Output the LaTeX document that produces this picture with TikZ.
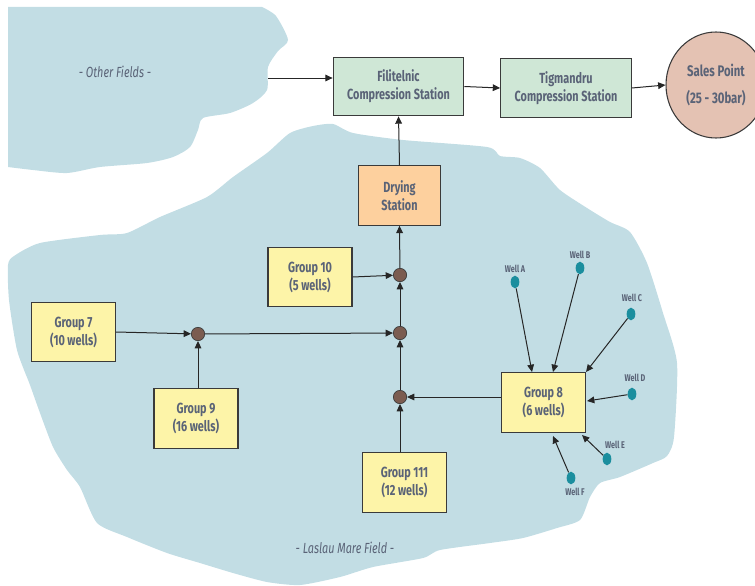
\documentclass[tikz,border=0pt]{standalone}
\usepackage{fontspec}
\setmainfont[FakeStretch=0.74]{Fira Sans}
\usetikzlibrary{shapes.geometric,arrows.meta}
\definecolor{field}{HTML}{C2DDE4}
\definecolor{txt}{HTML}{5A6377}
\definecolor{greenbox}{HTML}{CFE7D6}
\definecolor{yellowbox}{HTML}{FDF4A8}
\definecolor{orangebox}{HTML}{FDD09E}
\definecolor{salesfill}{HTML}{E4C2B3}
\definecolor{junc}{HTML}{7B5C50}
\definecolor{wellc}{HTML}{1B8E9E}
\definecolor{edge}{HTML}{3A3A3A}
\tikzset{
  box/.style={draw=edge, line width=0.8pt, text=txt, align=center, font=\fontsize{11}{13.5}\selectfont\bfseries,
              inner sep=0pt},
  gbox/.style={box, fill=greenbox, minimum width=98pt, minimum height=44pt},
  ybox/.style={box, fill=yellowbox, minimum width=63pt, minimum height=44.5pt},
  obox/.style={box, fill=orangebox, minimum width=62pt, minimum height=44.5pt},
  jn/.style={circle, draw=edge, line width=0.5pt, fill=junc, minimum size=10pt, inner sep=0pt},
  well/.style={ellipse, fill=wellc, minimum width=6.5pt, minimum height=9.5pt, inner sep=0pt},
  wlab/.style={text=txt, font=\fontsize{7.3}{8}\selectfont\bfseries, inner sep=0pt},
  conn/.style={draw=black!85, line width=0.75pt, -{Triangle[length=5.5pt,width=5pt]}},
  flab/.style={text=txt, font=\fontsize{11}{12}\selectfont\itshape}
}
\begin{document}
\begin{tikzpicture}[x=0.75pt,y=-0.75pt]
\useasboundingbox (0,0) rectangle (755,585);
\begin{scope}
\clip (0,0) rectangle (755,585);
% Other fields blob
\fill[field] (8,167) -- (8,7) -- (262,7) -- plot[smooth, tension=0.45] coordinates {
 (262,7) (276,16) (288,40) (278,51) (268,67) (267,90) (253,103)
 (230,113) (203,118) (198,130) (190,147) (173,157) (147,163) (100,167) (67,173) (33,170) (8,167)} -- cycle;
% Laslau Mare blob
\fill[field] plot[smooth cycle, tension=0.4] coordinates {
 (207,197) (233,177) (267,153) (290,133) (313,126) (333,124) (353,133) (403,140)
 (487,147) (500,156) (520,158) (540,168) (560,190) (587,208) (610,222) (630,232)
 (647,263) (663,313) (677,363) (674,437) (667,456) (653,463) (620,477) (600,483)
 (590,497) (580,520) (557,528) (523,538) (490,543) (440,550) (423,558) (373,567)
 (340,577) (300,585) (267,582) (233,573) (200,563) (167,553) (127,537) (97,523)
 (80,487) (67,470) (53,447) (40,413) (30,385) (17,350) (9,300) (8,265) (14,256)
 (40,243) (100,235) (127,233) (160,217)};
% Sales point
\node[ellipse, draw=edge, line width=0.8pt, fill=salesfill, minimum width=75pt, minimum height=79.5pt,
      text=txt, align=center, font=\fontsize{11.5}{13.5}\selectfont\bfseries, inner sep=0pt] (sp) at (716,85)
      {Sales Point\\[7pt](25 - 30bar)};
\end{scope}

\node[flab] (of) at (115,72) {- Other Fields -};
\node[flab] (lm) at (345,548) {- Laslau Mare Field -};
\coordinate (ofe) at (268,78);

\node[gbox] (fil) at (398.5,86.5) {Filitelnic\\Compression Station};
\node[gbox] (tig) at (566,88) {Tigmandru\\Compression Station};
\node[obox] (dry) at (399.5,195.5) {Drying\\Station};
\node[ybox] (g10) at (310,277) {Group 10\\(5 wells)};
\node[ybox] (g7) at (73.5,332) {Group 7\\(10 wells)};
\node[ybox] (g9) at (196,418.5) {Group 9\\(16 wells)};
\node[ybox] (g8) at (543.5,402.5) {Group 8\\(6 wells)};
\node[ybox] (g111) at (404.5,482.5) {Group 111\\(12 wells)};

\node[jn] (j1) at (198,334) {};
\node[jn] (j2) at (400,275) {};
\node[jn] (j3) at (400,333) {};
\node[jn] (j4) at (400,397) {};

\node[well] (wa) at (515,282) {};
\node[well] (wb) at (580,268) {};
\node[well] (wc) at (631,314) {};
\node[well] (wd) at (632,394) {};
\node[well] (we) at (607,459) {};
\node[well] (wf) at (571,478) {};
\node[wlab] at (515,269) {Well A};
\node[wlab] at (580,255) {Well B};
\node[wlab] at (632,298) {Well C};
\node[wlab] at (635,378) {Well D};
\node[wlab] at (615,445) {Well E};
\node[wlab] at (575,492) {Well F};

\coordinate (ea) at (532,372);
\coordinate (eb) at (553,372);
\coordinate (ec) at (586,372);
\coordinate (ed) at (587,401);
\coordinate (ee) at (582,435);
\coordinate (ef) at (553,436);

% connectors
\draw[conn] (ofe) -- (ofe -| fil.west);
\draw[conn] (fil.east) -- (tig.west);
\draw[conn] (tig.east) -- (sp.west);
\draw[conn] (dry.north) -- (fil.south);
\draw[conn] (j2) -- (dry.south);
\draw[conn] (g10.east) -- (j2);
\draw[conn] (j3) -- (j2);
\draw[conn] (j4) -- (j3);
\draw[conn] (j1) -- (j3);
\draw[conn] (g7.east) -- (j1);
\draw[conn] (g9.north -| j1) -- (j1);
\draw[conn] (g8.west |- j4) -- (j4);
\draw[conn] (g111.north -| j4) -- (j4);
\draw[conn] (wa) -- (ea);
\draw[conn] (wb) -- (eb);
\draw[conn] (wc) -- (ec);
\draw[conn] (wd) -- (ed);
\draw[conn] (we) -- (ee);
\draw[conn] (wf) -- (ef);
\end{tikzpicture}
\end{document}
